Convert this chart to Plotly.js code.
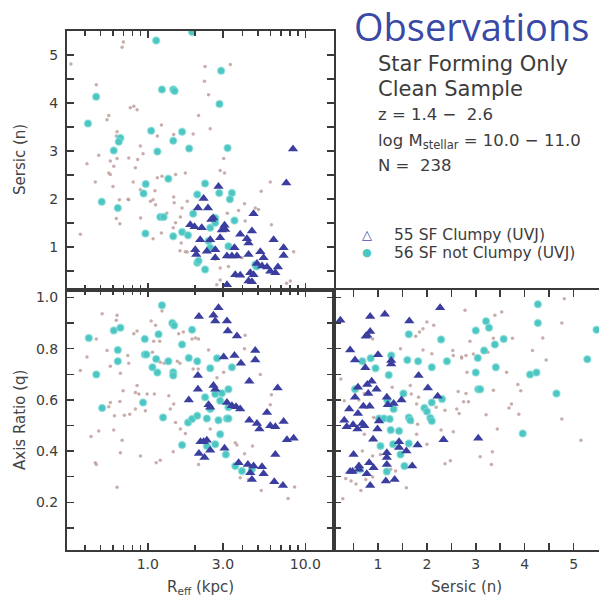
<!DOCTYPE html>
<html>
<head>
<meta charset="utf-8">
<script src="https://cdn.plot.ly/plotly-3.0.1.min.js"></script>
<style>html,body{margin:0;padding:0;background:#fff;}#chart{width:599px;height:600px;}</style>
</head>
<body>
<div id="chart"></div>
<script>
// ---------- Top panel: R_eff (kpc) vs Sersic n ----------
const topClumpyR = [8.35,7.57,2.81,2.26,2.08,2.41,4.69,2.53,2.60,2.20,3.07,3.10,3.86,4.58,4.26,6.29,2.15,2.49,2.88,2.00,2.03,2.37,2.68,3.55,3.18,3.42,3.68,2.68,4.36,5.18,5.43,7.28,7.28,4.93,5.31,5.71,5.99,6.45,6.70,4.47,4.69,4.36,4.58,3.59,3.86,3.18,1.86,1.98,2.95,4.36];
const topClumpyN = [3.04,2.33,2.26,2.01,1.81,1.81,1.69,1.57,1.60,1.40,1.45,1.36,1.26,1.33,1.17,1.15,1.15,1.15,1.19,0.94,0.84,0.91,0.94,0.98,0.81,0.81,0.81,0.77,0.84,0.90,0.77,0.98,0.82,0.65,0.60,0.58,0.49,0.46,0.58,0.46,0.42,0.29,0.27,0.42,0.41,0.21,1.46,1.42,1.35,1.08];
const topNotClumpyR = [1.13,1.91,0.47,1.23,1.45,1.48,0.417,1.05,1.65,0.67,0.654,1.45,0.608,1.15,1.83,1.35,0.97,0.94,0.51,0.645,1.20,1.26,0.966,1.45,1.65,1.80,2.06,1.94,2.06,2.92,2.85,3.21,2.31,2.84,3.42,3.32,2.68,2.49,2.43,2.49,3.55,3.25,2.31,2.10,4.81,2.68,4.90];
const topNotClumpyN = [5.30,5.48,4.13,4.28,4.28,4.25,3.57,3.42,3.40,3.27,3.19,3.21,3.01,2.99,3.05,2.42,2.31,2.11,1.94,1.81,1.62,1.62,1.28,1.22,1.31,1.24,2.09,1.69,0.67,4.67,3.98,3.06,2.32,2.12,2.12,1.99,1.60,1.40,1.12,0.98,1.55,1.01,0.53,0.71,0.63,1.50,0.59];
const topOtherR = [0.687,0.70,0.325,0.471,0.774,0.815,0.855,0.565,0.551,1.22,0.638,0.631,1.15,1.46,1.94,0.897,0.488,0.411,0.578,0.638,0.608,0.757,0.863,0.933,0.834,0.565,0.578,0.464,0.601,0.807,1.15,1.23,1.50,1.73,1.11,0.749,1.04,1.12,1.46,1.47,1.65,1.78,0.631,0.664,0.373,1.08,1.22,1.45,1.60,1.73,2.31,2.29,2.43,2.10,2.49,3.34,3.03,2.88,3.07,5.99,5.25,4.11,3.77,5.04,4.15,6.09,8.43,2.68,2.88,2.74,8.03,3.96,0.66,0.757,0.897,1.08,1.32,1.50,1.61,1.63,1.78,2.88,3.25,4.81,7.60,3.20,0.90];
const topOtherN = [5.16,5.27,4.81,4.38,3.90,3.93,3.86,3.74,3.65,3.54,3.40,3.31,3.31,3.34,3.35,3.10,2.91,2.73,2.79,2.84,2.68,2.85,2.82,2.94,2.65,2.54,2.51,2.35,2.26,2.35,2.44,2.47,2.51,2.54,2.17,1.99,1.95,1.88,2.04,1.92,1.81,1.95,1.59,1.48,1.26,1.17,1.29,1.40,0.92,0.90,4.76,4.45,4.17,3.74,3.46,4.80,2.84,2.59,2.54,2.35,2.16,1.90,1.76,1.78,1.54,1.46,0.90,0.74,0.56,0.21,0.29,0.77,1.98,1.98,2.19,1.98,1.70,1.50,1.62,1.08,0.89,0.31,0.59,1.81,0.24,1.70,1.60];

// ---------- Bottom-left panel: R_eff (kpc) vs axis ratio q ----------
const blClumpyR = [2.11,2.08,2.08,1.82,2.16,2.11,2.81,2.61,2.68,3.18,3.22,3.68,4.81,4.81,3.55,3.03,3.90,4.41,6.67,2.61,2.68,2.43,2.49,3.18,3.42,3.63,3.86,5.71,4.41,4.93,5.11,5.99,6.45,7.28,7.64,8.43,2.26,2.37,2.49,2.29,3.07,6.45,3.77,4.32,4.69,5.31,5.43,4.47,4.58,6.35,7.21];
const blClumpyQ = [0.926,0.695,0.642,0.600,0.437,0.391,0.960,0.930,0.908,0.908,0.869,0.849,0.793,0.756,0.773,0.767,0.743,0.673,0.646,0.656,0.642,0.581,0.571,0.590,0.577,0.573,0.564,0.551,0.521,0.508,0.486,0.499,0.495,0.516,0.444,0.450,0.437,0.442,0.403,0.375,0.411,0.387,0.355,0.348,0.342,0.339,0.312,0.316,0.289,0.280,0.266];
const blNotClumpyR = [1.23,1.43,1.47,0.608,0.670,0.422,0.957,1.17,1.91,1.65,0.645,0.957,0.98,1.13,0.645,1.35,1.82,2.06,1.07,1.15,1.45,1.45,0.471,0.933,0.513,1.25,1.80,1.91,2.06,1.65,2.75,2.49,3.42,3.25,2.95,2.68,2.31,2.88,2.49,3.25,2.37,2.81,3.18,3.25,2.88,2.68,2.37,3.13,3.59,3.96,4.58];
const blNotClumpyQ = [0.969,0.900,0.890,0.871,0.882,0.842,0.838,0.856,0.874,0.816,0.795,0.777,0.777,0.760,0.751,0.751,0.764,0.751,0.727,0.707,0.708,0.695,0.699,0.590,0.568,0.531,0.512,0.525,0.538,0.424,0.763,0.724,0.727,0.642,0.626,0.623,0.610,0.597,0.564,0.571,0.527,0.521,0.527,0.527,0.466,0.427,0.420,0.387,0.342,0.322,0.329];
const blOtherR = [0.513,0.638,0.631,1.23,1.05,1.12,0.471,0.855,0.815,1.09,1.19,1.57,1.68,1.91,2.01,0.411,0.373,0.551,0.746,0.757,0.578,0.670,1.07,1.20,1.27,1.54,1.60,1.94,2.09,0.855,0.834,0.877,0.697,0.99,1.10,1.36,1.46,1.39,0.578,0.565,0.664,0.834,0.965,0.614,0.710,0.768,1.50,1.61,1.73,0.488,0.436,0.608,0.687,0.670,1.45,0.897,0.464,0.471,1.13,1.20,0.638,2.10,2.43,4.15,4.11,3.03,2.75,5.18,6.09,5.99,2.49,3.59,3.68,4.62,4.11,2.10,3.86,4.36,5.25,7.77,8.55];
const blOtherQ = [0.936,0.930,0.911,0.947,0.908,0.891,0.838,0.869,0.858,0.829,0.829,0.858,0.865,0.838,0.842,0.767,0.715,0.793,0.773,0.743,0.731,0.704,0.786,0.747,0.743,0.751,0.743,0.721,0.721,0.656,0.629,0.623,0.636,0.623,0.623,0.616,0.584,0.564,0.590,0.573,0.594,0.564,0.558,0.538,0.540,0.544,0.512,0.486,0.469,0.479,0.457,0.482,0.442,0.394,0.398,0.381,0.355,0.348,0.355,0.364,0.259,0.838,0.795,0.852,0.800,0.708,0.686,0.699,0.620,0.581,0.486,0.433,0.424,0.420,0.390,0.348,0.296,0.289,0.246,0.215,0.260];

// ---------- Bottom-right panel: Sersic n vs axis ratio q ----------
const brClumpyN = [2.27,0.23,0.84,1.14,1.64,0.84,0.78,0.75,0.43,0.53,0.74,1.00,1.27,1.27,1.83,0.87,0.78,0.97,0.59,0.53,2.02,2.22,0.80,1.18,1.48,1.32,1.20,0.41,0.59,0.70,0.83,0.31,0.68,0.36,0.49,0.58,0.72,1.02,0.99,0.90,1.43,1.43,1.81,2.34,3.05,1.58,1.18,1.18,1.18,0.50,0.82,0.91,1.70,0.61,0.61,0.43,0.48,0.77,1.16,1.34,0.84];
const brClumpyQ = [0.960,0.911,0.926,0.934,0.908,0.867,0.852,0.848,0.795,0.756,0.725,0.776,0.754,0.740,0.695,0.673,0.660,0.642,0.649,0.610,0.646,0.614,0.625,0.610,0.600,0.586,0.581,0.564,0.547,0.575,0.575,0.521,0.508,0.495,0.503,0.486,0.499,0.518,0.486,0.446,0.437,0.414,0.424,0.444,0.450,0.400,0.394,0.375,0.348,0.387,0.355,0.335,0.342,0.342,0.329,0.320,0.320,0.312,0.283,0.289,0.266];
const brNotClumpyN = [1.63,2.29,2.41,0.85,0.68,1.27,1.60,1.82,0.95,2.10,1.22,0.53,1.52,1.19,2.31,2.10,1.32,1.95,2.00,1.02,1.12,1.24,1.63,1.66,2.07,2.10,1.26,1.43,1.05,1.31,1.63,1.46,1.54,1.18,0.63,4.27,4.27,3.21,3.27,3.00,3.57,3.39,3.17,3.04,3.41,3.00,4.11,4.24,5.28,5.47,3.05,3.09,4.65,3.96];
const brNotClumpyQ = [0.856,0.836,0.751,0.763,0.751,0.773,0.756,0.751,0.724,0.727,0.697,0.642,0.625,0.600,0.603,0.590,0.564,0.568,0.555,0.527,0.527,0.525,0.531,0.521,0.529,0.518,0.482,0.479,0.420,0.427,0.430,0.387,0.342,0.320,0.329,0.973,0.900,0.907,0.882,0.871,0.838,0.816,0.793,0.764,0.727,0.707,0.699,0.707,0.759,0.874,0.642,0.642,0.625,0.469];
const brOtherN = [2.78,3.53,3.39,4.81,4.76,2.88,3.36,3.75,4.16,4.37,4.44,2.71,2.80,2.95,3.25,2.82,3.63,3.86,3.92,2.80,3.36,2.75,2.85,3.73,3.68,3.21,3.88,4.76,3.44,5.15,3.34,3.09,3.32,2.00,2.14,1.92,1.85,1.77,0.89,1.46,1.92,2.10,2.54,2.71,2.53,0.24,1.29,1.66,1.68,0.72,0.80,1.83,2.64,0.31,0.61,1.79,2.19,2.37,2.61,2.66,0.91,1.70,1.81,2.29,0.72,1.79,2.00,2.54,0.89,1.05,2.37,2.48,1.26,1.36,0.34,0.45,0.55,0.65,1.58,0.28,0.75,0.89,0.68];
const brOtherQ = [0.950,0.943,0.930,0.995,0.900,0.829,0.841,0.841,0.793,0.842,0.756,0.767,0.773,0.779,0.786,0.708,0.708,0.660,0.636,0.625,0.638,0.593,0.593,0.584,0.568,0.542,0.544,0.525,0.486,0.442,0.398,0.378,0.348,0.904,0.891,0.878,0.865,0.848,0.838,0.800,0.795,0.780,0.773,0.764,0.793,0.682,0.649,0.656,0.623,0.625,0.633,0.610,0.633,0.597,0.600,0.584,0.571,0.560,0.564,0.547,0.531,0.512,0.505,0.482,0.466,0.466,0.427,0.476,0.381,0.387,0.351,0.362,0.329,0.322,0.293,0.283,0.272,0.246,0.257,0.214,0.289,0.299,0.400];

// ---------- Tick labels ----------
const reffTickVals = [1, 3, 10];
const reffTickText = ['1.0', '3.0', '10.0'];
const reffMinorVals = [0.4,0.5,0.6,0.7,0.8,0.9,2,4,5,6,7,8,9];
const sersicTickVals = [1, 2, 3, 4, 5];
const sersicTickText = ['1', '2', '3', '4', '5'];
const qTickVals = [0.2, 0.4, 0.6, 0.8, 1.0];
const qTickText = ['0.2', '0.4', '0.6', '0.8', '1.0'];

// ---------- Styles ----------
const C_AX = '#3a3a3a';
const styleOther = {symbol:'circle', size:3.5, color:'rgba(190,160,156,0.85)'};
const styleNot = {symbol:'circle', size:7, color:'#4cc6c2', line:{color:'rgba(130,218,214,0.6)', width:1.5}};
const styleClumpy = {symbol:'triangle-up', size:9, color:'#3b3e9f', line:{width:0}};

function tr(x, y, xa, ya, m, name) {
  return {type:'scatter', mode:'markers', x:x, y:y, xaxis:xa, yaxis:ya, marker:m, name:name, hoverinfo:'x+y'};
}
const data = [
  tr(topOtherR, topOtherN, 'x', 'y', styleOther, 'other'),
  tr(topNotClumpyR, topNotClumpyN, 'x', 'y', styleNot, 'SF not Clumpy'),
  tr(topClumpyR, topClumpyN, 'x', 'y', styleClumpy, 'SF Clumpy'),
  tr(blOtherR, blOtherQ, 'x2', 'y2', styleOther, 'other'),
  tr(blNotClumpyR, blNotClumpyQ, 'x2', 'y2', styleNot, 'SF not Clumpy'),
  tr(blClumpyR, blClumpyQ, 'x2', 'y2', styleClumpy, 'SF Clumpy'),
  tr(brOtherN, brOtherQ, 'x3', 'y3', styleOther, 'other'),
  tr(brNotClumpyN, brNotClumpyQ, 'x3', 'y3', styleNot, 'SF not Clumpy'),
  tr(brClumpyN, brClumpyQ, 'x3', 'y3', styleClumpy, 'SF Clumpy')
];

const W = 599, H = 600;
const px = v => v / W, py = v => 1 - v / H;
const tickFont = {family:'DejaVu Sans', size:14, color:'#3c3c3c'};
function ax(extra) {
  return Object.assign({
    showline:true, linecolor:C_AX, linewidth:2, mirror:'ticks',
    ticks:'inside', ticklen:7, tickwidth:1.5, tickcolor:C_AX,
    showgrid:false, zeroline:false, tickfont:tickFont, ticklabelstandoff:4, fixedrange:true
  }, extra);
}
const minorLin = d => ({dtick:d, ticks:'inside', ticklen:7, tickwidth:1.5, tickcolor:C_AX, showgrid:false});
const minorLog = {tickmode:'array', tickvals:reffMinorVals, ticks:'inside', ticklen:5, tickwidth:1.5, tickcolor:C_AX, showgrid:false};

const xL = [67/W, 334/W], xR = [334/W, 1];
const yT = [1-290/H, 1-31/H], yB = [1-550/H, 1-290/H];

function note(x, y, text, size, opts) {
  return Object.assign({xref:'paper', yref:'paper', x:px(x), y:py(y), text:text, showarrow:false,
    xanchor:'left', yanchor:'middle', font:{family:'DejaVu Sans', size:size, color:'#3c3c3c'}}, opts || {});
}
const titleFont = {family:'DejaVu Sans', size:15, color:'#444'};

const layout = {
  width:W, height:H, margin:{l:0, r:0, t:0, b:0},
  paper_bgcolor:'#ffffff', plot_bgcolor:'#ffffff', showlegend:false,
  font:{family:'DejaVu Sans', color:'#3c3c3c'},
  xaxis: ax({domain:xL, anchor:'y', type:'log', range:[-0.513, 1.182], tickmode:'array', tickvals:reffTickVals, ticktext:reffTickText, showticklabels:false, minor:minorLog}),
  yaxis: ax({domain:yT, anchor:'x', range:[0.1, 5.5], tickmode:'array', tickvals:sersicTickVals, ticktext:sersicTickText, minor:minorLin(0.5)}),
  xaxis2: ax({domain:xL, anchor:'y2', type:'log', range:[-0.513, 1.182], tickmode:'array', tickvals:reffTickVals, ticktext:reffTickText, ticklabelstandoff:0, minor:minorLog}),
  yaxis2: ax({domain:yB, anchor:'x2', range:[0.014, 1.029], tickmode:'array', tickvals:qTickVals, ticktext:qTickText, minor:minorLin(0.1)}),
  xaxis3: ax({domain:xR, anchor:'y3', range:[0.1, 5.52], tickmode:'array', tickvals:sersicTickVals, ticktext:sersicTickText, ticklabelstandoff:0, minor:minorLin(0.5)}),
  yaxis3: ax({domain:yB, anchor:'x3', range:[0.014, 1.029], tickmode:'array', tickvals:qTickVals, showticklabels:false, mirror:false, minor:minorLin(0.1)}),
  annotations: [
    note(20, 160, 'Sersic (n)', 15, {textangle:-90, xanchor:'center', font:titleFont}),
    note(20, 420, 'Axis Ratio (q)', 15, {textangle:-90, xanchor:'center', font:titleFont}),
    note(200, 587, 'R<sub>eff</sub> (kpc)', 15, {xanchor:'center', font:titleFont}),
    note(466, 587, 'Sersic (n)', 15, {xanchor:'center', font:titleFont}),
    note(471, 26, 'Observations', 38, {xanchor:'center', font:{family:'Open Sans', size:38, color:'#3a48a6'}}),
    note(376, 64, 'Star Forming Only', 21),
    note(376, 89, 'Clean Sample', 21),
    note(376, 115, 'z = 1.4 \u2212\u00a0\u00a02.6', 16.5),
    note(376, 141, 'log M<sub>stellar</sub> = 10.0 \u2212 11.0', 16.5),
    note(376, 165, 'N =\u00a0\u00a0238', 16.5),
    note(367, 235, '\u25B3', 13, {xanchor:'center', font:{family:'DejaVu Sans', size:13, color:'#4a4db0'}}),
    note(367, 253, '\u25CF', 11, {xanchor:'center', font:{family:'DejaVu Sans', size:11, color:'#4cc6c2'}}),
    note(392, 235, '55 SF Clumpy (UVJ)', 15.5),
    note(392, 253, '56 SF not Clumpy (UVJ)', 15.5)
  ]
};

Plotly.newPlot('chart', data, layout, {displayModeBar:false, staticPlot:true});
</script>
</body>
</html>
